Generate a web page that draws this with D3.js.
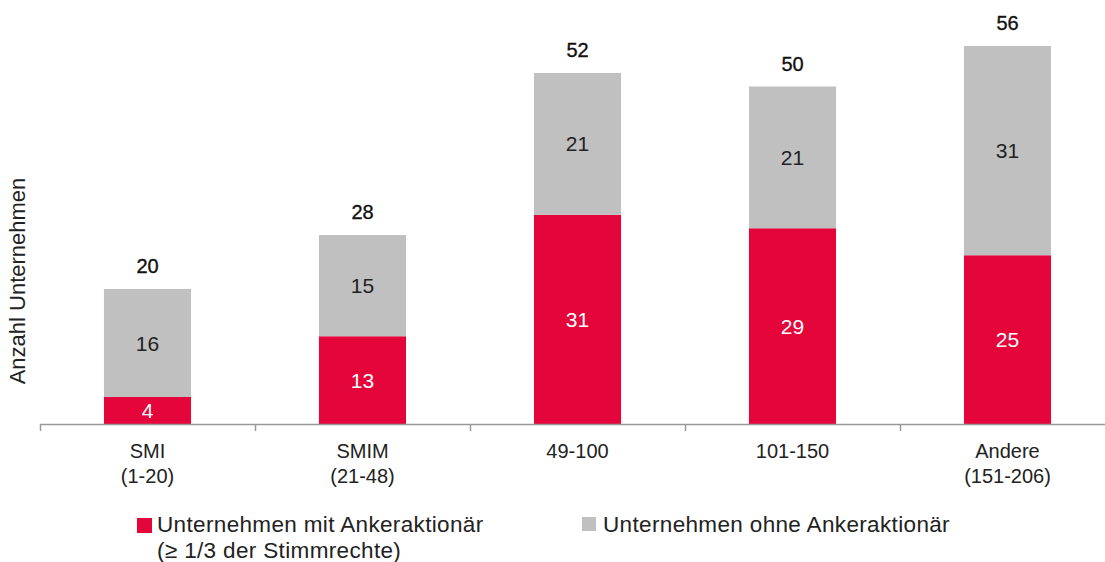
<!DOCTYPE html>
<html>
<head>
<meta charset="utf-8">
<script src="https://cdn.jsdelivr.net/npm/d3@7"></script>
<style>
  body { margin: 0; background: #fff; }
  text { font-family: "Liberation Sans", Arial, sans-serif; }
</style>
</head>
<body>
<svg id="chart"></svg>
<script>
var categories = [["SMI", "(1-20)"], ["SMIM", "(21-48)"], ["49-100"], ["101-150"], ["Andere", "(151-206)"]];
var mitAnker = [4, 13, 31, 29, 25];
var ohneAnker = [16, 15, 21, 21, 31];
var totals = [20, 28, 52, 50, 56];
var seriesNames = ["Unternehmen mit Ankeraktionär", "Unternehmen ohne Ankeraktionär"];

var width = 1105, height = 562;
var red = "#e4053b", grey = "#c0c0c0";

var svg = d3.select("#chart")
    .attr("width", width)
    .attr("height", height);

var keys = categories.map(function(c, i) { return i; });

var x = d3.scaleBand()
    .domain(keys)
    .range([40, 1115])
    .paddingInner(0.595)
    .paddingOuter(0.2975);

var y = d3.scaleLinear()
    .domain([0, 56])
    .range([424, 46]);

var rows = keys.map(function(i) {
  return { i: i, mit: mitAnker[i], ohne: ohneAnker[i] };
});
var stack = d3.stack().keys(["mit", "ohne"])(rows);
var colors = { mit: red, ohne: grey };

// bars + segment labels
stack.forEach(function(layer) {
  svg.append("g").selectAll("rect")
      .data(layer)
    .enter().append("rect")
      .attr("x", function(d) { return x(d.data.i); })
      .attr("width", x.bandwidth())
      .attr("y", function(d) { return y(d[1]); })
      .attr("height", function(d) { return y(d[0]) - y(d[1]); })
      .attr("fill", colors[layer.key]);

  svg.append("g").selectAll("text")
      .data(layer)
    .enter().append("text")
      .attr("x", function(d) { return x(d.data.i) + x.bandwidth() / 2; })
      .attr("y", function(d) { return (y(d[0]) + y(d[1])) / 2 + 7.5; })
      .attr("text-anchor", "middle")
      .style("font-size", "21px")
      .attr("fill", layer.key == "mit" ? "#fff" : "#222")
      .text(function(d) { return d.data[layer.key]; });
});

// totals
svg.append("g").selectAll("text")
    .data(keys)
  .enter().append("text")
    .attr("x", function(i) { return x(i) + x.bandwidth() / 2; })
    .attr("y", function(i) { return y(totals[i]) - 16; })
    .attr("text-anchor", "middle")
    .style("font-size", "20px")
    .attr("fill", "#111")
    .attr("stroke", "#111")
    .attr("stroke-width", 0.35)
    .text(function(i) { return totals[i]; });

// x axis
var axis = svg.append("g").attr("class", "axis");
axis.append("line")
    .attr("x1", 40).attr("x2", width)
    .attr("y1", 424.5).attr("y2", 424.5)
    .attr("stroke", "#999").attr("stroke-width", 1.5);

var tickX = function(i) { return Math.round(x(i) + x.bandwidth() / 2 - x.step() / 2) + 0.5; };
axis.selectAll("line.tick")
    .data(keys)
  .enter().append("line")
    .attr("class", "tick")
    .attr("x1", tickX)
    .attr("x2", tickX)
    .attr("y1", 424).attr("y2", 431)
    .attr("stroke", "#999").attr("stroke-width", 1.5);

axis.selectAll("text.cat")
    .data(keys)
  .enter().append("text")
    .attr("class", "cat")
    .attr("text-anchor", "middle")
    .attr("x", function(i) { return x(i) + x.bandwidth() / 2; })
    .attr("y", 458)
    .style("font-size", "20px")
    .attr("fill", "#222")
    .each(function(i) {
      var t = d3.select(this);
      categories[i].forEach(function(line, k) {
        t.append("tspan")
          .attr("x", x(i) + x.bandwidth() / 2)
          .attr("dy", k == 0 ? 0 : 25)
          .text(line);
      });
    });

// y label
svg.append("text")
    .attr("transform", "translate(25,281) rotate(-90)")
    .attr("text-anchor", "middle")
    .style("font-size", "22px")
    .attr("fill", "#222")
    .text("Anzahl Unternehmen");

// legend
var legend = svg.append("g")
    .style("font-size", "22.5px")
    .style("letter-spacing", "0.35px")
    .attr("fill", "#222");
legend.append("rect").attr("x", 137).attr("y", 518).attr("width", 15).attr("height", 15).attr("fill", red);
legend.append("text").attr("x", 157).attr("y", 532).text(seriesNames[0]);
legend.append("text").attr("x", 157).attr("y", 558).text("(≥ 1/3 der Stimmrechte)");
legend.append("rect").attr("x", 582).attr("y", 517).attr("width", 14).attr("height", 14).attr("fill", grey);
legend.append("text").attr("x", 603).attr("y", 532).text(seriesNames[1]);
</script>
</body>
</html>
